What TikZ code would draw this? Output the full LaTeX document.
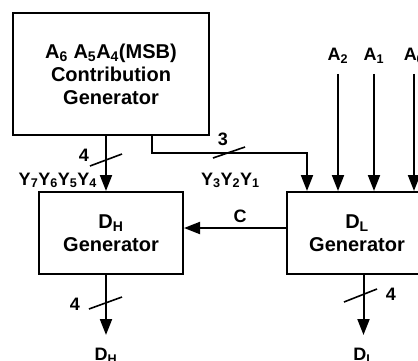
\documentclass[tikz,border=0pt]{standalone}
\usepackage{fontspec}
\setmainfont{Liberation Sans}
\usetikzlibrary{arrows.meta}
\begin{document}
\begin{tikzpicture}[x=1pt,y=-1pt,
  box/.style={draw, line width=2pt, align=center, inner sep=0pt,
    font=\fontsize{20}{23}\selectfont\bfseries},
  lbl/.style={inner sep=0pt, font=\fontsize{18}{20}\selectfont\bfseries},
  arr/.style={line width=2pt, -{Triangle[width=12pt,length=16pt]}},
  bus/.style={line width=1.6pt}]
\useasboundingbox (0,0) rectangle (418,360);

% blocks
\node[box, minimum width=196pt, minimum height=122pt] (top) at (111,74)
  {A\textsubscript{6} A\textsubscript{5}A\textsubscript{4}(MSB)\\Contribution\\Generator};
\node[box, minimum width=144pt, minimum height=82pt] (dh) at (111,233)
  {D\textsubscript{H}\\Generator};
\node[box, minimum width=140pt, minimum height=82pt] (dl) at (357,233)
  {D\textsubscript{L}\\Generator};

% inputs A2 A1 A0
\node[lbl] (a2) at (338,56) {A\textsubscript{2}};
\node[lbl] (a1) at (374,56) {A\textsubscript{1}};
\node[lbl] (a0) at (414,56) {A\textsubscript{0}};
\draw[arr] ([yshift=-10pt]a2.south) -- (a2.south |- dl.north);
\draw[arr] ([yshift=-10pt]a1.south) -- (a1.south |- dl.north);
\draw[arr] ([yshift=-10pt]a0.south) -- (a0.south |- dl.north);

% top -> DH
\draw[arr] ([xshift=-5pt]top.south) -- ([xshift=-5pt]dh.north);
\draw[bus] (90,166) -- (122,154);
\node[lbl] (n4a) at (84,155) {4};
\node[lbl, anchor=base east] (y74) at (97,185)
  {Y\textsubscript{7}Y\textsubscript{6}Y\textsubscript{5}Y\textsubscript{4}};

% top -> DL
\coordinate (j) at (230,153);
\draw[arr] ([xshift=41pt]top.south) |- (j) -| ([xshift=-50pt]dl.north);
\draw[bus] (213,158) -- (245,147);
\node[lbl] (n3) at (223,139) {3};
\node[lbl, anchor=base west] (y31) at (201,185)
  {Y\textsubscript{3}Y\textsubscript{2}Y\textsubscript{1}};

% carry
\draw[arr] ([yshift=5pt]dl.west) -- ([yshift=5pt]dh.east);
\node[lbl] (c) at (240,216) {C};

% outputs
\coordinate (dhout) at (106,335);
\coordinate (dlout) at (363.5,335);
\draw[arr] ([xshift=-5pt]dh.south) -- (dhout);
\draw[arr] ([xshift=6.5pt]dl.south) -- (dlout);
\draw[bus] (89,309) -- (122,297);
\draw[bus] (344,302) -- (377,289);
\node[lbl] (n4b) at (75,304) {4};
\node[lbl] (n4c) at (391,294) {4};
\node[lbl] (dhl) at (106,356) {D\textsubscript{H}};
\node[lbl] (dll) at (364,356) {D\textsubscript{L}};
\end{tikzpicture}
\end{document}
